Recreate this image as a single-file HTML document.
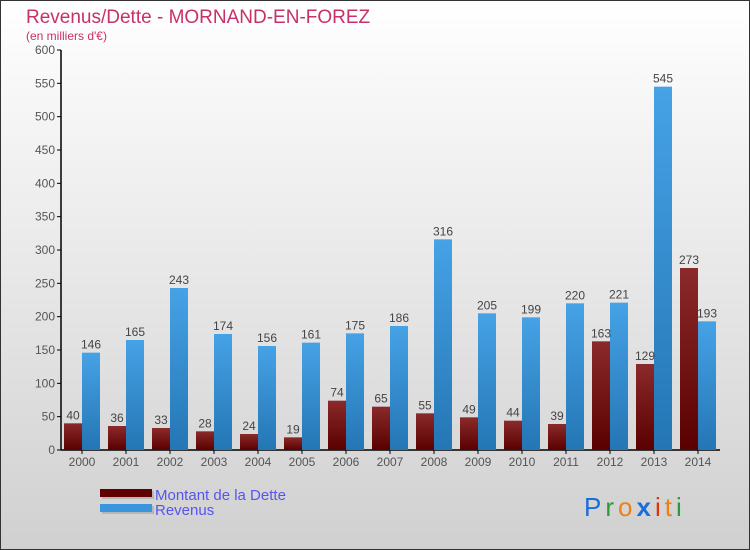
<!DOCTYPE html>
<html><head><meta charset="utf-8">
<style>
body{margin:0;width:750px;height:550px;overflow:hidden;font-family:"Liberation Sans",sans-serif;}
svg{display:block}
</style></head><body>
<svg id="c" width="750" height="550" xmlns="http://www.w3.org/2000/svg">
<defs>
<linearGradient id="bg" x1="0" y1="0" x2="0" y2="1"><stop offset="0" stop-color="#ffffff"/><stop offset="1" stop-color="#d0d0d0"/></linearGradient>
<linearGradient id="gd" x1="0" y1="0" x2="0" y2="1"><stop offset="0" stop-color="#8b2a2a"/><stop offset="1" stop-color="#5a0000"/></linearGradient>
<linearGradient id="gr" x1="0" y1="0" x2="0" y2="1"><stop offset="0" stop-color="#46a2e6"/><stop offset="1" stop-color="#2476b4"/></linearGradient>
</defs>
<rect x="0.5" y="0.5" width="749" height="549" fill="url(#bg)" stroke="#333"/>
<text x="26" y="23" font-size="19" fill="#c8306a">Revenus/Dette - MORNAND-EN-FOREZ</text>
<text x="26" y="40" font-size="12" fill="#c8306a">(en milliers d'€)</text>
<g id="axes"></g>
<g id="bars"></g>
<g>
<rect x="102" y="491" width="52" height="8" fill="#999" opacity="0.5"/>
<rect x="100" y="489" width="52" height="8" fill="#600000"/>
<rect x="102" y="506" width="52" height="8" fill="#999" opacity="0.5"/>
<rect x="100" y="504" width="52" height="8" fill="#3a96dc"/>
<text x="155" y="500" font-size="15" fill="#5555ee">Montant de la Dette</text>
<text x="155" y="515" font-size="15" fill="#5555ee">Revenus</text>
</g>
<text x="584" y="516" font-size="26" letter-spacing="4" font-family="Liberation Sans, sans-serif"><tspan fill="#1a6ed8">P</tspan><tspan fill="#2a9a3a">r</tspan><tspan fill="#f08010">o</tspan><tspan fill="#1a6ed8" font-weight="bold">x</tspan><tspan fill="#e03010">i</tspan><tspan fill="#f08010">t</tspan><tspan fill="#2a9a3a">i</tspan></text>
</svg>
<script>
const years=["2000","2001","2002","2003","2004","2005","2006","2007","2008","2009","2010","2011","2012","2013","2014"];
const dette=[40,36,33,28,24,19,74,65,55,49,44,39,163,129,273];
const revenus=[146,165,243,174,156,161,175,186,316,205,199,220,221,545,193];
const yTicks=[0,50,100,150,200,250,300,350,400,450,500,550,600];
const NS="http://www.w3.org/2000/svg";
const y0=450,yTop=50,yMax=600,x0=60,step=44;
const Y=v=>y0-(v/yMax)*(y0-yTop);
const X=i=>x0+i*step;
function el(t,a,p,txt){const e=document.createElementNS(NS,t);for(const k in a)e.setAttribute(k,a[k]);if(txt!==undefined)e.textContent=txt;p.appendChild(e);return e;}
const ax=document.getElementById('axes'),bg=document.getElementById('bars');
let l=el('line',{x1:61,y1:Y(yMax),x2:61,y2:y0,stroke:'#000','stroke-width':1.5},ax);


l=el('line',{x1:61,y1:y0,x2:720,y2:y0,stroke:'#000','stroke-width':1.5},ax);


yTicks.forEach(v=>{
 el('line',{x1:57,y1:Y(v),x2:61,y2:Y(v),stroke:'#000'},ax);
 const t=el('text',{x:55,y:Y(v)+4,'font-size':12,fill:'#555','text-anchor':'end'},ax,v);
 
 
});
years.forEach((yr,i)=>{
 const cx=X(i)+22;
 el('line',{x1:cx,y1:y0,x2:cx,y2:y0+4,stroke:'#000'},ax);
 const t=el('text',{x:cx,y:y0+16,'font-size':12,fill:'#555','text-anchor':'middle'},ax,yr);
 
 
 const d=dette[i],r=revenus[i];
 let b=el('rect',{x:X(i)+4,y:Y(d),width:18,height:y0-Y(d),fill:'url(#gd)'},bg);
 
 
 b=el('rect',{x:X(i)+22,y:Y(r),width:18,height:y0-Y(r),fill:'url(#gr)'},bg);
 
 
 let lt=el('text',{x:X(i)+13,y:Y(d)-4,'font-size':12,fill:'#444','text-anchor':'middle'},bg,d);
 
 
 lt=el('text',{x:X(i)+31,y:Y(r)-4,'font-size':12,fill:'#444','text-anchor':'middle'},bg,r);
 
 
});
</script>
</body></html>
